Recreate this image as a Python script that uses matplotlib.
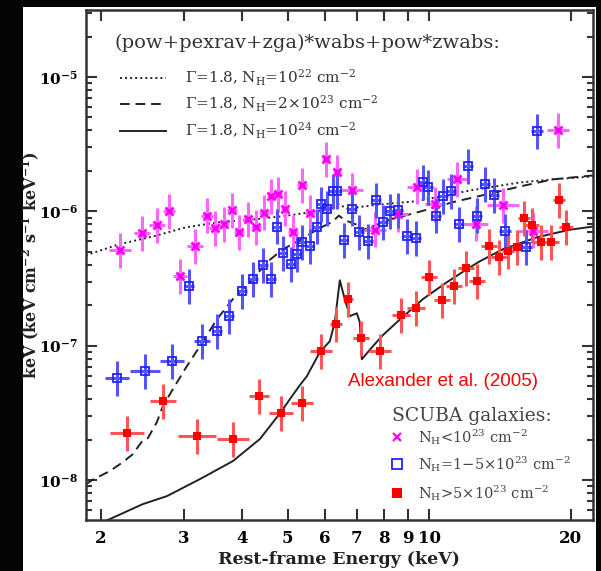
import numpy as np
import matplotlib.pyplot as plt
from matplotlib.patches import Rectangle
from matplotlib.ticker import LogLocator, NullLocator, NullFormatter

plt.rcParams['font.family'] = ['DejaVu Serif']
plt.rcParams['mathtext.fontset'] = 'dejavuserif'

# model curves (keV, keV^2 cm^-2 s^-1 keV^-1)
e_dot = [1.858, 2.185, 2.581, 3.033, 3.566, 4.212, 4.879, 5.762, 6.233, 6.419,
         6.676, 7.962, 9.405, 12.19, 15.58, 18.31, 22.28]
f_dot = [4.71e-7, 5.68e-7, 6.5e-7, 7.6e-7, 8.3e-7, 8.7e-7, 9.2e-7, 1.0e-6, 1.07e-6, 1.13e-6,
         1.05e-6, 1.13e-6, 1.19e-6, 1.43e-6, 1.64e-6, 1.73e-6, 1.82e-6]

e_dash = [1.858, 1.932, 2.090, 2.228, 2.340, 2.457, 2.518, 2.632, 2.710, 2.847, 3.048,
          3.249, 3.531, 3.819, 4.212, 4.511, 4.879, 5.302, 5.762, 6.233, 6.419,
          6.610, 6.909, 7.045, 7.114, 7.470, 8.241, 9.405, 11.22, 13.26, 15.58,
          18.31, 22.28]
f_dash = [9.3e-9, 1.017e-8, 1.167e-8, 1.361e-8, 1.56e-8, 1.98e-8, 2.05e-8, 2.70e-8, 3.55e-8,
          4.75e-8, 7.04e-8, 9.9e-8, 1.57e-7, 2.22e-7, 3.12e-7, 4.18e-7, 5.22e-7, 6.1e-7,
          7.3e-7, 8.4e-7, 9.3e-7, 8.6e-7, 8.1e-7, 7.9e-7, 7.1e-7, 7.6e-7, 8.7e-7, 9.8e-7,
          1.17e-6, 1.34e-6, 1.53e-6, 1.73e-6, 1.85e-6]

e_solid = [1.858, 2.090, 2.457, 2.764, 3.249, 3.819, 4.359, 4.831, 5.049, 5.302, 5.488,
           5.848, 6.141, 6.293, 6.450, 6.610, 6.775, 7.011, 7.114, 7.184, 7.581, 7.962,
           8.528, 9.685, 10.90, 12.02, 12.81, 14.33, 16.93, 19.90, 22.28]
f_solid = [4.32e-9, 5.13e-9, 6.63e-9, 7.60e-9, 1.017e-8, 1.385e-8, 2.02e-8, 3.20e-8, 4.0e-8,
           5.08e-8, 5.93e-8, 8.95e-8, 1.08e-7, 1.495e-7, 3.07e-7, 2.22e-7, 1.66e-7, 1.745e-7,
           1.495e-7, 7.93e-8, 9.9e-8, 1.197e-7, 1.495e-7, 2.22e-7, 2.97e-7, 3.71e-7, 4.25e-7,
           5.22e-7, 6.41e-7, 7.3e-7, 7.7e-7]

# SCUBA galaxies, N_H < 1e23
e_low = [2.195, 2.445, 2.632, 2.791, 2.945, 3.170, 3.362, 3.497, 3.654, 3.800, 3.932,
         4.110, 4.274, 4.444, 4.600, 4.761, 4.927, 5.124, 5.353, 5.567, 6.024, 6.356,
         6.841, 7.655, 8.570, 9.405, 10.27, 11.44, 12.56, 14.33, 16.60, 18.77]
f_low = [5.13e-7, 6.86e-7, 7.9e-7, 1.0e-6, 3.29e-7, 5.49e-7, 9.3e-7, 7.5e-7, 8.0e-7, 1.02e-6,
         6.98e-7, 8.7e-7, 7.6e-7, 9.8e-7, 1.29e-6, 1.34e-6, 1.05e-6, 6.98e-7, 1.56e-6, 9.8e-7,
         2.44e-6, 1.95e-6, 1.43e-6, 7.3e-7, 9.5e-7, 1.53e-6, 1.13e-6, 1.73e-6, 8.1e-7, 1.11e-6,
         7.2e-7, 4.0e-6]
xw_low = [0.023, 0.017, 0.017, 0.013, 0.015, 0.017, 0.013, 0.013, 0.011, 0.011, 0.011,
          0.011, 0.011, 0.011, 0.009, 0.009, 0.009, 0.011, 0.011, 0.011, 0.009, 0.009,
          0.023, 0.023, 0.021, 0.021, 0.021, 0.021, 0.026, 0.034, 0.032, 0.023]

# N_H = 1-5e23
e_mid = [2.163, 2.481, 2.833, 3.078, 3.281, 3.531, 3.745, 3.991, 4.212, 4.423, 4.600,
         4.738, 4.879, 5.074, 5.223, 5.353, 5.567, 5.762, 5.876, 6.054, 6.233, 6.356,
         6.578, 6.841, 7.079, 7.396, 7.692, 7.962, 8.241, 8.570, 8.958, 9.359, 9.685,
         9.926, 10.32, 10.68, 11.11, 11.55, 12.07, 12.62, 13.12, 13.72, 14.47, 16.05, 16.93]
f_mid = [5.73e-8, 6.46e-8, 7.67e-8, 2.77e-7, 1.08e-7, 1.28e-7, 1.66e-7, 2.54e-7, 3.12e-7,
         3.97e-7, 3.12e-7, 7.7e-7, 4.87e-7, 4.04e-7, 4.79e-7, 5.88e-7, 5.49e-7, 7.7e-7,
         1.13e-6, 1.05e-6, 1.41e-6, 1.41e-6, 6.1e-7, 1.05e-6, 6.98e-7, 5.98e-7, 1.21e-6,
         8.3e-7, 1.0e-6, 1.02e-6, 6.5e-7, 6.3e-7, 1.64e-6, 1.51e-6, 9.3e-7, 1.29e-6, 1.41e-6,
         8.0e-7, 2.16e-6, 9.3e-7, 1.59e-6, 1.32e-6, 7.1e-7, 5.40e-7, 3.93e-6]
xw_mid = [0.026, 0.032, 0.026, 0.011, 0.017, 0.011, 0.011, 0.011, 0.011, 0.011, 0.011,
          0.009, 0.009, 0.009, 0.009, 0.009, 0.009, 0.009, 0.009, 0.009, 0.009, 0.009,
          0.009, 0.011, 0.011, 0.011, 0.011, 0.011, 0.011, 0.011, 0.011, 0.011, 0.011,
          0.011, 0.011, 0.011, 0.011, 0.011, 0.011, 0.011, 0.011, 0.011, 0.013, 0.013, 0.013]

# N_H > 5e23
e_high = [2.272, 2.710, 3.201, 3.819, 4.338, 4.831, 5.353, 5.876, 6.325, 6.708, 7.149,
          7.845, 8.698, 9.359, 9.975, 10.63, 11.27, 11.96, 12.62, 13.38, 14.05, 14.69,
          15.35, 15.89, 16.52, 17.27, 18.14, 18.87, 19.52]
f_high = [2.24e-8, 3.87e-8, 2.12e-8, 2.02e-8, 4.21e-8, 3.15e-8, 3.74e-8, 9.1e-8, 1.45e-7,
          2.22e-7, 1.14e-7, 9.1e-8, 1.69e-7, 1.90e-7, 3.23e-7, 2.18e-7, 2.77e-7, 3.77e-7,
          3.02e-7, 5.49e-7, 4.55e-7, 5.04e-7, 5.40e-7, 8.9e-7, 7.9e-7, 5.88e-7, 5.88e-7,
          1.21e-6, 7.6e-7]
xw_high = [0.036, 0.028, 0.040, 0.034, 0.021, 0.026, 0.023, 0.023, 0.013, 0.011, 0.017,
           0.023, 0.019, 0.019, 0.017, 0.017, 0.017, 0.017, 0.017, 0.017, 0.017, 0.013,
           0.013, 0.013, 0.015, 0.017, 0.017, 0.013, 0.015]

yerr_dex = 0.13

fig = plt.figure(figsize=(6.01, 5.71), dpi=100, facecolor='#050505')
fig.patches.append(Rectangle((23 / 601, 0), 573 / 601, 564 / 571, transform=fig.transFigure,
                             facecolor='white', edgecolor='none', zorder=-10))
ax = fig.add_axes([86 / 601, 51 / 571, 507 / 601, 510 / 571])
ax.set_facecolor('white')


def plot_set(E, F, xw, color, ecolor, **mk):
    E = np.array(E)
    F = np.array(F)
    xw = np.array(xw)
    xerr = [E * (1 - 10 ** -xw), E * (10 ** xw - 1)]
    yerr = [F * (1 - 10 ** -yerr_dex), F * (10 ** yerr_dex - 1)]
    ax.errorbar(E, F, xerr=xerr, yerr=yerr, fmt='none', ecolor=ecolor,
                elinewidth=2.2, capsize=0, zorder=3)
    ax.plot(E, F, ls='none', color=color, zorder=4, **mk)


# model lines
ax.plot(e_dot, f_dot, color='#222222', lw=1.4, ls=(0, (1, 1.6)), zorder=2)
ax.plot(e_dash, f_dash, color='#222222', lw=1.4, ls=(0, (5, 3)), zorder=2)
ax.plot(e_solid, f_solid, color='#222222', lw=1.4, zorder=2)

plot_set(e_low, f_low, xw_low, '#ff00ff', '#ff66ff', marker='x', ms=5.5, mew=2)
ax.plot(e_low, f_low, ls='none', marker='s', ms=3, mew=0, color='#ee00ee', zorder=5)
plot_set(e_mid, f_mid, xw_mid, '#2222ff', '#5555ff', marker='s', ms=6, mew=1.3,
         mfc='none')
plot_set(e_high, f_high, xw_high, '#ff0000', '#ff5555', marker='s', ms=5.5, mew=0)

ax.set_xscale('log')
ax.set_yscale('log')
ax.set_xlim(1.86, 22.3)
ax.set_ylim(5.05e-9, 3.15e-5)

xt = [2, 3, 4, 5, 6, 7, 8, 9, 10, 20]
ax.set_xticks(xt)
ax.set_xticklabels([str(v) for v in xt])
ax.xaxis.set_minor_locator(NullLocator())
yt = [1e-8, 1e-7, 1e-6, 1e-5]
ax.set_yticks(yt)
ax.set_yticklabels([r'$\mathbf{10^{%d}}$' % p for p in (-8, -7, -6, -5)])
ax.yaxis.set_minor_locator(LogLocator(base=10, subs=np.arange(2, 10)))
ax.yaxis.set_minor_formatter(NullFormatter())

ax.tick_params(which='both', direction='in', top=True, right=True, color='#333333',
               width=1.5)
ax.tick_params(which='major', length=8, pad=7, labelsize=12)
ax.tick_params(axis='y', which='major', labelsize=11, pad=6)
ax.tick_params(which='minor', length=4.5)
for lab in ax.get_xticklabels():
    lab.set_fontweight('bold')
for s in ax.spines.values():
    s.set_linewidth(1.8)
    s.set_color('#333333')

fig.text(339 / 601, 1 - 559 / 571, 'Rest-frame Energy (keV)', ha='center', va='center',
         fontsize=12.5, fontweight='bold', color='#222222')
fig.text(31 / 601, 1 - 265 / 571,
         r'keV (keV cm$^{\mathbf{-2}}$ s$^{\mathbf{-1}}$ keV$^{\mathbf{-1}}$)',
         rotation=90, ha='center', va='center', fontsize=11.5, fontweight='bold',
         color='#222222')

# model legend
ax.text(0.057, 0.935, '(pow+pexrav+zga)*wabs+pow*zwabs:', transform=ax.transAxes,
        ha='left', va='center', fontsize=14, color='#333333')
leg_y = [0.867, 0.816, 0.763]
leg_styles = [(0, (1, 1.6)), (0, (5, 3)), '-']
leg_text = [r'$\Gamma$=1.8, N$_{\rm H}$=10$^{22}$ cm$^{-2}$',
            r'$\Gamma$=1.8, N$_{\rm H}$=2$\times$10$^{23}$ cm$^{-2}$',
            r'$\Gamma$=1.8, N$_{\rm H}$=10$^{24}$ cm$^{-2}$']
for yy, st, tx in zip(leg_y, leg_styles, leg_text):
    ax.plot([0.067, 0.158], [yy, yy], transform=ax.transAxes, color='#222222', lw=1.4,
            ls=st)
    ax.text(0.195, yy, tx, transform=ax.transAxes, ha='left', va='center', fontsize=11,
            color='#333333')

ax.text(0.517, 0.271, 'Alexander et al. (2005)', transform=ax.transAxes, ha='left',
        va='center', fontsize=13.5, color='#ff0000', family='Liberation Sans')

# data legend
ax.text(0.604, 0.204, 'SCUBA galaxies:', transform=ax.transAxes, ha='left', va='center',
        fontsize=13.5, color='#444444')
ax.plot([0.613], [0.163], transform=ax.transAxes, ls='none', marker='x', ms=6, mew=1.6,
        color='#ff00ff')
ax.plot([0.613], [0.110], transform=ax.transAxes, ls='none', marker='s', ms=7, mew=1.3,
        mfc='none', color='#2222ff')
ax.plot([0.613], [0.053], transform=ax.transAxes, ls='none', marker='s', ms=7, mew=0,
        color='#ff0000')
ax.text(0.655, 0.163, r'N$_{\rm H}$<10$^{23}$ cm$^{-2}$', transform=ax.transAxes,
        ha='left', va='center', fontsize=10.5, color='#444444')
ax.text(0.655, 0.110, r'N$_{\rm H}$=1$-$5$\times$10$^{23}$ cm$^{-2}$',
        transform=ax.transAxes, ha='left', va='center', fontsize=10.5, color='#444444')
ax.text(0.655, 0.053, r'N$_{\rm H}$>5$\times$10$^{23}$ cm$^{-2}$', transform=ax.transAxes,
        ha='left', va='center', fontsize=10.5, color='#444444')

fig.savefig('out.png', dpi=100, facecolor=fig.get_facecolor())
